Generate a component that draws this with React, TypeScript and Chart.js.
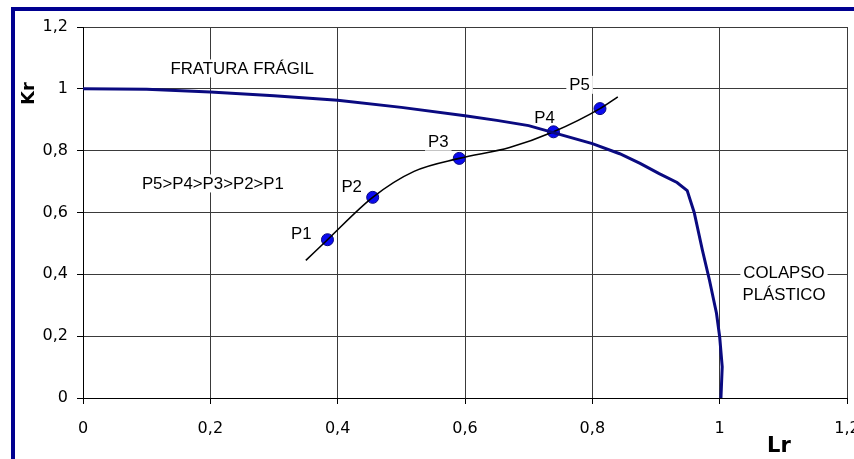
import React, { useEffect, useRef } from "react";
import { Chart, registerables } from "chart.js";

Chart.register(...registerables);

// Failure assessment curve (Lr, Kr)
const fadLr = [0, 0.1, 0.2, 0.3, 0.4, 0.5, 0.6, 0.65, 0.7, 0.75, 0.8, 0.843, 0.875, 0.905, 0.933, 0.949, 0.96, 0.973, 0.984, 0.995, 1.0, 1.004, 1.002];
const fadKr = [1, 0.999, 0.99, 0.978, 0.963, 0.94, 0.913, 0.898, 0.881, 0.852, 0.823, 0.79, 0.759, 0.726, 0.697, 0.671, 0.6, 0.477, 0.381, 0.274, 0.198, 0.101, 0];

// Path of the assessment points
const pathLr = [0.35, 0.384, 0.455, 0.52, 0.591, 0.67, 0.739, 0.812, 0.84];
const pathKr = [0.445, 0.512, 0.649, 0.733, 0.775, 0.81, 0.861, 0.936, 0.974];

// Assessment points
const pointNames = ["P1", "P2", "P3", "P4", "P5"];
const pointLr = [0.384, 0.455, 0.591, 0.739, 0.812];
const pointKr = [0.512, 0.649, 0.775, 0.861, 0.936];

// Axis ticks
const xTickLabels = ["0", "0,2", "0,4", "0,6", "0,8", "1", "1,2"];
const yTickLabels = ["0", "0,2", "0,4", "0,6", "0,8", "1", "1,2"];

// Text annotations
const noteTexts = [...pointNames, "FRATURA FRÁGIL", "P5>P4>P3>P2>P1", "COLAPSO", "PLÁSTICO"];
const noteLr = [0.343, 0.422, 0.558, 0.725, 0.78, 0.25, 0.204, 1.101, 1.101];
const noteKr = [0.532, 0.684, 0.829, 0.906, 1.013, 1.066, 0.694, 0.406, 0.333];

const NAVY = "#0a0a80";

const decorPlugin = {
  id: "decor",
  beforeDraw(chart: any) {
    const ctx = chart.ctx;
    ctx.save();
    ctx.fillStyle = "#ffffff";
    ctx.fillRect(0, 0, chart.width, chart.height);
    ctx.fillStyle = "#000090";
    ctx.fillRect(11, 7, chart.width, 4);
    ctx.fillRect(11, 7, 4, chart.height);
    ctx.restore();
  },
  beforeDatasetsDraw(chart: any) {
    const ctx = chart.ctx;
    const xs = chart.scales.x;
    const ys = chart.scales.y;
    ctx.save();
    ctx.font = "16px 'Liberation Sans', Arial, sans-serif";
    ctx.textAlign = "center";
    ctx.textBaseline = "middle";
    const sx = 1.05;
    noteTexts.forEach((t, i) => {
      const px = xs.getPixelForValue(noteLr[i]);
      const py = ys.getPixelForValue(noteKr[i]);
      const w = ctx.measureText(t).width * sx;
      ctx.fillStyle = "#ffffff";
      ctx.fillRect(px - w / 2 - 3, py - 9, w + 6, 18);
      ctx.save();
      ctx.translate(px, py);
      ctx.scale(sx, 1);
      ctx.fillStyle = "#000000";
      ctx.fillText(t, 0, 1);
      ctx.restore();
    });
    ctx.restore();
  },
  afterDraw(chart: any) {
    const ctx = chart.ctx;
    const xs = chart.scales.x;
    const ys = chart.scales.y;
    ctx.save();
    ctx.fillStyle = "#000000";
    ctx.textAlign = "center";
    ctx.textBaseline = "middle";
    ctx.font = "bold 18px 'DejaVu Sans', sans-serif";
    ctx.translate(29, ys.getPixelForValue(0.985));
    ctx.rotate(-Math.PI / 2);
    ctx.fillText("Kr", 0, 0);
    ctx.restore();
    ctx.save();
    ctx.fillStyle = "#000000";
    ctx.textAlign = "center";
    ctx.textBaseline = "middle";
    ctx.font = "bold 21px 'DejaVu Sans', sans-serif";
    ctx.fillText("Lr", xs.getPixelForValue(1.093), 447);
    ctx.restore();
  },
};

export default function App() {
  const ref = useRef<HTMLCanvasElement>(null);
  useEffect(() => {
    if (!ref.current) return;
    const chart = new Chart(ref.current, {
      type: "scatter",
      data: {
        datasets: [
          {
            label: "FAD",
            data: fadLr.map((x, i) => ({ x, y: fadKr[i] })),
            showLine: true,
            borderColor: NAVY,
            borderWidth: 3,
            pointRadius: 0,
            tension: 0,
          },
          {
            label: "Trajetória",
            data: pathLr.map((x, i) => ({ x, y: pathKr[i] })),
            showLine: true,
            borderColor: "#000000",
            borderWidth: 1.6,
            pointRadius: 0,
            cubicInterpolationMode: "monotone",
          },
          {
            label: "Pontos",
            data: pointLr.map((x, i) => ({ x, y: pointKr[i] })),
            showLine: false,
            pointRadius: 6,
            pointBackgroundColor: "#0a0af0",
            pointBorderColor: NAVY,
            pointBorderWidth: 1,
          },
        ],
      } as any,
      options: {
        animation: false,
        responsive: false,
        devicePixelRatio: 1,
        layout: { padding: { top: 27, right: 6, left: 0, bottom: 0 } },
        plugins: { legend: { display: false }, tooltip: { enabled: false } },
        scales: {
          x: {
            type: "linear",
            min: 0,
            max: 1.2,
            ticks: {
              stepSize: 0.2,
              padding: 15,
              color: "#000000",
              font: { family: "'DejaVu Sans', sans-serif", size: 16 },
              callback: (_v: any, i: number) => xTickLabels[i],
              maxRotation: 0,
            },
            grid: { color: "#3a3a3a", lineWidth: 1, tickLength: 6, tickColor: "#000000" },
            border: { color: "#000000" },
            afterFit: (s: any) => {
              s.height = 61;
              s.paddingLeft = 0;
              s.paddingRight = 0;
            },
          },
          y: {
            type: "linear",
            min: 0,
            max: 1.2,
            ticks: {
              stepSize: 0.2,
              padding: 9,
              color: "#000000",
              font: { family: "'DejaVu Sans', sans-serif", size: 16 },
              callback: (_v: any, i: number) => yTickLabels[i],
            },
            grid: { color: "#3a3a3a", lineWidth: 1, tickLength: 6, tickColor: "#000000" },
            border: { color: "#000000" },
            afterFit: (s: any) => {
              s.width = 83;
            },
          },
        },
      } as any,
      plugins: [decorPlugin],
    });
    return () => chart.destroy();
  }, []);
  return (
    <canvas
      ref={ref}
      width={854}
      height={459}
      style={{ position: "fixed", left: 0, top: 0, width: 854, height: 459 }}
    />
  );
}
